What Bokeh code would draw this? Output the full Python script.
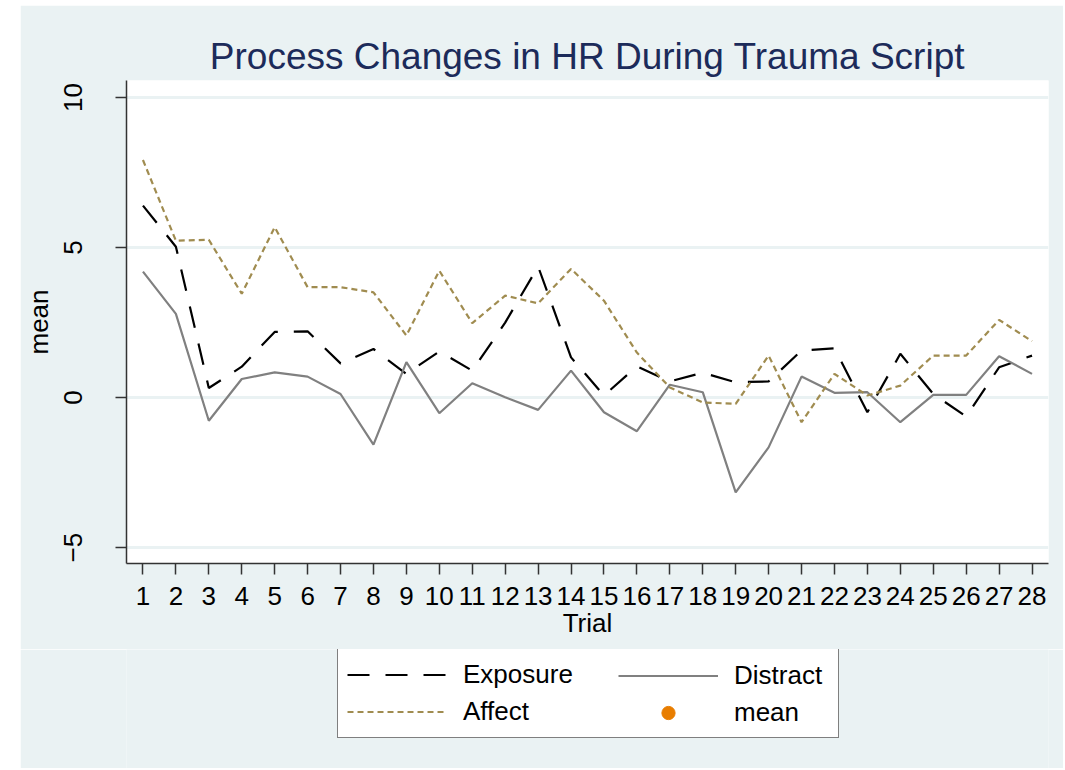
from bokeh.plotting import figure
from bokeh.models import FixedTicker, Legend, LegendItem, Range1d, Spacer
from bokeh.layouts import row, column
from bokeh.embed import file_html
from bokeh.resources import INLINE

# ---- data ----
trials = list(range(1, 29))
tick_labels = [str(t) for t in trials]
exposure = [6.4, 5.03, 0.32, 1.03, 2.19, 2.21, 1.14, 1.62, 0.79, 1.54, 0.9, 2.5, 4.37, 1.34,
            0.07, 1.04, 0.54, 0.83, 0.51, 0.54, 1.57, 1.64, -0.49, 1.46, 0.12, -0.63, 1.01, 1.4]
distract = [4.2, 2.79, -0.77, 0.62, 0.84, 0.7, 0.12, -1.57, 1.18, -0.52, 0.48, 0.01, -0.41, 0.9,
            -0.49, -1.12, 0.43, 0.18, -3.16, -1.66, 0.7, 0.16, 0.18, -0.82, 0.09, 0.09, 1.38, 0.79]
affect = [7.92, 5.23, 5.26, 3.46, 5.68, 3.68, 3.68, 3.51, 2.07, 4.23, 2.48, 3.4, 3.14, 4.29,
          3.23, 1.5, 0.34, -0.16, -0.21, 1.4, -0.82, 0.79, 0.07, 0.4, 1.4, 1.4, 2.59, 1.88]
mean_trials = []
mean_values = []
y_ticks = [-5, 0, 5, 10]
series_names = ["Exposure", "Distract", "Affect", "mean"]

FONT = "Liberation Sans"
BG = "#EAF2F3"
C_EXP, C_DIS, C_AFF, C_MEAN = "black", "#808080", "#A08C50", "#E87D00"
DASH_EXP, DASH_AFF = "22 16", "6 4"

p = figure(width=1043, height=644, output_backend="svg", toolbar_location=None,
           x_range=Range1d(0.5, 28.5), y_range=Range1d(-5.53, 10.57),
           min_border_left=105, min_border_right=15, min_border_top=75, min_border_bottom=86)
p.border_fill_color = BG
p.background_fill_color = "white"
p.outline_line_color = None

p.title.text = "Process Changes in HR During Trauma Script"
p.title.text_font = FONT
p.title.text_font_size = "37px"
p.title.text_font_style = "normal"
p.title.text_color = "#1C2B5A"
p.title.align = "center"
p.title.standoff = 8

p.xaxis.ticker = FixedTicker(ticks=trials)
p.xaxis.major_label_overrides = {t: l for t, l in zip(trials, tick_labels)}
p.yaxis.ticker = FixedTicker(ticks=y_ticks)
for ax in (p.xaxis[0], p.yaxis[0]):
    ax.axis_line_color = "#333333"
    ax.axis_line_width = 1.5
    ax.major_tick_line_color = "#333333"
    ax.major_tick_line_width = 1.5
    ax.major_tick_out = 11
    ax.major_tick_in = 0
    ax.minor_tick_line_color = None
    ax.major_label_text_font = FONT
    ax.major_label_text_font_size = "26px"
    ax.major_label_text_color = "black"
    ax.axis_label_text_font = FONT
    ax.axis_label_text_font_size = "26px"
    ax.axis_label_text_font_style = "normal"
    ax.axis_label_text_color = "black"
p.xaxis.major_label_standoff = 12
p.xaxis.axis_label = "Trial"
p.xaxis.axis_label_standoff = 0
p.yaxis.major_label_standoff = 33
p.yaxis.major_label_orientation = "vertical"
p.yaxis.axis_label = "mean"
p.yaxis.axis_label_standoff = 8

p.xgrid.grid_line_color = None
p.ygrid.ticker = FixedTicker(ticks=y_ticks)
p.ygrid.grid_line_color = BG
p.ygrid.grid_line_width = 3

p.line(trials, exposure, line_color=C_EXP, line_width=2.2, line_dash=DASH_EXP)
p.line(trials, distract, line_color=C_DIS, line_width=2.2)
p.line(trials, affect, line_color=C_AFF, line_width=2.2, line_dash=DASH_AFF)
p.scatter(x=mean_trials, y=mean_values, size=13, color=C_MEAN)

# ---- legend strip below the plot (its frame aligns with the plot frame) ----
# the proxy renderers reuse the series but lie outside this strip's ranges, so only
# their legend glyphs are drawn
pl = figure(width=1043, height=119, output_backend="svg", toolbar_location=None, title=None,
            x_range=Range1d(-100, -99), y_range=Range1d(-100, -99), min_border=0,
            x_axis_location=None, y_axis_location=None)
pl.border_fill_color = BG
pl.background_fill_color = BG
pl.outline_line_color = None
pl.grid.visible = False
lr_exp = pl.line(trials, exposure, line_color=C_EXP, line_width=2.2, line_dash=DASH_EXP)
lr_dis = pl.line(trials, distract, line_color=C_DIS, line_width=2.2)
lr_aff = pl.line(trials, affect, line_color=C_AFF, line_width=2.2, line_dash=DASH_AFF)
lr_mean = pl.scatter(trials, affect, size=14, color=C_MEAN)

common = dict(padding=9, margin=0, glyph_width=100, glyph_height=33, label_height=28,
              label_standoff=16, spacing=4, label_text_font=FONT,
              label_text_font_size="26px", label_text_color="black")
leg_l = Legend(items=[LegendItem(label=series_names[0], renderers=[lr_exp]),
                      LegendItem(label=series_names[2], renderers=[lr_aff])],
               location=(211, 30), label_width=366,
               border_line_color="black", border_line_width=1.2,
               background_fill_color="white", background_fill_alpha=1, **common)
leg_r = Legend(items=[LegendItem(label=series_names[1], renderers=[lr_dis]),
                      LegendItem(label=series_names[3], renderers=[lr_mean])],
               location=(483, 30), label_width=90,
               border_line_alpha=0, background_fill_alpha=0, **common)
pl.add_layout(leg_l, "center")
pl.add_layout(leg_r, "center")

layout = row(Spacer(width=20, height=10),
             column(Spacer(width=10, height=5), p, pl, spacing=0), spacing=0)

open("out.html", "w").write(file_html(layout, INLINE))
